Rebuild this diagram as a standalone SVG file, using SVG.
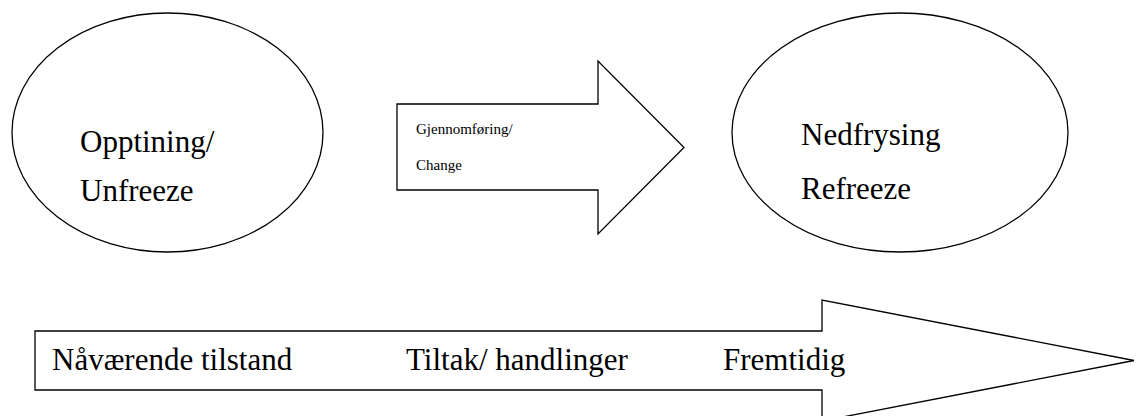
<svg xmlns="http://www.w3.org/2000/svg" width="1138" height="416" viewBox="0 0 1138 416">
<style>
.shape{fill:#fff;stroke:#000;stroke-width:1.3}
.big{font-family:"Liberation Serif","Times New Roman",serif;font-size:31px;fill:#000}
.low{font-family:"Liberation Serif","Times New Roman",serif;font-size:31px;fill:#000}
.small{font-family:"Liberation Serif","Times New Roman",serif;font-size:15px;fill:#000}
</style>
<rect width="1138" height="416" fill="#fff"/>
<g id="unfreeze">
<ellipse class="shape" cx="167.5" cy="132.5" rx="155.5" ry="119.5"/>
<text class="big" x="80" y="152">Opptining/</text>
<text class="big" x="80" y="201">Unfreeze</text>
</g>
<g id="change">
<path class="shape" d="M397,104 H598 V61 L684,147.5 L598,234 V190 H397 Z"/>
<text class="small" x="416" y="134">Gjennomføring/</text>
<text class="small" x="416" y="170">Change</text>
</g>
<g id="refreeze">
<ellipse class="shape" cx="900" cy="132.5" rx="168" ry="119.5"/>
<text class="big" x="801" y="145">Nedfrysing</text>
<text class="big" x="801" y="199">Refreeze</text>
</g>
<g id="timeline">
<path class="shape" stroke-width="1.8" d="M35,331 H822 V300 L1134,360.5 L822,421 V390 H35 Z"/>
<text class="low" x="52" y="370">Nåværende tilstand</text>
<text class="low" x="406" y="370">Tiltak/ handlinger</text>
<text class="low" x="723" y="370">Fremtidig</text>
</g>
<g id="connectors"></g>
</svg>
